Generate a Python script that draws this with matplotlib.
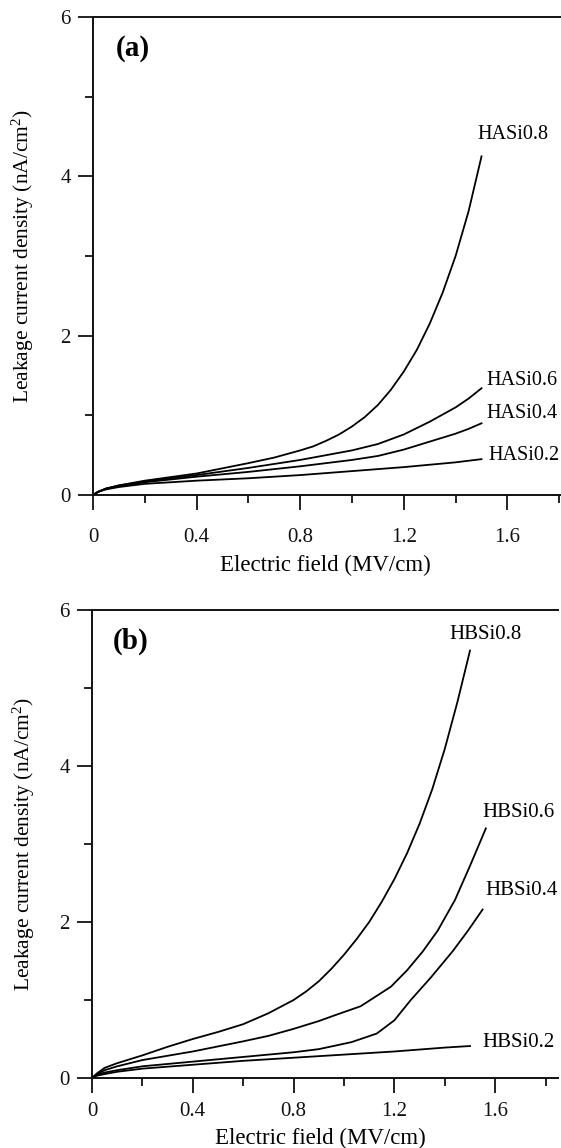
"""
Leakage current density vs electric field for the HASi and HBSi film series,
two stacked panels (a) and (b).
"""
import matplotlib

matplotlib.use("Agg")
import matplotlib.pyplot as plt
from matplotlib.ticker import FuncFormatter

plt.rcParams["font.family"] = ["Liberation Serif", "DejaVu Serif"]
plt.rcParams["mathtext.fontset"] = "custom"
plt.rcParams["mathtext.rm"] = "Liberation Serif"
plt.rcParams["mathtext.it"] = "Liberation Serif:italic"

# ---- panel (a): HASi series -------------------------------------------------
has02_x = [0, 0.02, 0.05, 0.1, 0.2, 0.4, 0.6, 0.8, 1.0, 1.2, 1.4, 1.5]
has02_y = [0, 0.04, 0.07, 0.10, 0.14, 0.18, 0.21, 0.25, 0.30, 0.35, 0.41, 0.45]

has04_x = [0, 0.02, 0.05, 0.1, 0.2, 0.4, 0.6, 0.8, 1.0, 1.05, 1.1, 1.15, 1.2,
           1.25, 1.3, 1.35, 1.4, 1.45, 1.5]
has04_y = [0, 0.04, 0.08, 0.11, 0.16, 0.23, 0.29, 0.36, 0.44, 0.465, 0.49, 0.53,
           0.57, 0.62, 0.67, 0.72, 0.77, 0.83, 0.90]

has06_x = [0, 0.02, 0.05, 0.1, 0.2, 0.4, 0.6, 0.8, 0.9, 1.0, 1.05, 1.1, 1.15,
           1.2, 1.25, 1.3, 1.35, 1.4, 1.45, 1.5]
has06_y = [0, 0.04, 0.08, 0.12, 0.17, 0.25, 0.34, 0.44, 0.50, 0.56, 0.60, 0.64,
           0.70, 0.76, 0.84, 0.92, 1.01, 1.10, 1.21, 1.34]

has08_x = [0, 0.02, 0.05, 0.1, 0.2, 0.4, 0.6, 0.7, 0.8, 0.85, 0.9, 0.95, 1.0,
           1.05, 1.1, 1.15, 1.2, 1.25, 1.3, 1.35, 1.4, 1.45, 1.5]
has08_y = [0, 0.04, 0.08, 0.12, 0.18, 0.27, 0.40, 0.47, 0.56, 0.61, 0.68, 0.76,
           0.86, 0.98, 1.13, 1.32, 1.55, 1.82, 2.15, 2.54, 3.00, 3.56, 4.25]

# ---- panel (b): HBSi series -------------------------------------------------
hbs02_x = [0, 0.02, 0.05, 0.1, 0.2, 0.4, 0.6, 0.8, 1.0, 1.2, 1.4, 1.5]
hbs02_y = [0, 0.03, 0.05, 0.08, 0.12, 0.17, 0.22, 0.26, 0.30, 0.34, 0.39, 0.41]

hbs04_x = [0, 0.02, 0.05, 0.1, 0.2, 0.4, 0.6, 0.8, 0.9, 1.03, 1.13, 1.2, 1.265,
           1.345, 1.43, 1.49, 1.55]
hbs04_y = [0, 0.04, 0.07, 0.10, 0.15, 0.21, 0.27, 0.33, 0.37, 0.46, 0.57, 0.74,
           1.00, 1.29, 1.62, 1.88, 2.16]

hbs06_x = [0, 0.02, 0.05, 0.1, 0.2, 0.4, 0.6, 0.7, 0.8, 0.9, 0.96, 1.066, 1.186,
           1.25, 1.312, 1.372, 1.44, 1.5, 1.563]
hbs06_y = [0, 0.05, 0.10, 0.15, 0.23, 0.34, 0.47, 0.54, 0.63, 0.73, 0.80, 0.92,
           1.17, 1.38, 1.62, 1.89, 2.28, 2.72, 3.20]

hbs08_x = [0, 0.02, 0.05, 0.1, 0.2, 0.3, 0.4, 0.5, 0.6, 0.7, 0.8, 0.85, 0.9,
           0.95, 1.0, 1.05, 1.1, 1.15, 1.2, 1.25, 1.3, 1.35, 1.4, 1.45, 1.5]
hbs08_y = [0, 0.06, 0.13, 0.19, 0.29, 0.40, 0.50, 0.59, 0.69, 0.83, 1.00, 1.11,
           1.24, 1.40, 1.58, 1.78, 2.00, 2.26, 2.55, 2.88, 3.26, 3.70, 4.22,
           4.82, 5.48]

# curve labels: (text, x, y) in data units
labels_a = [("HASi0.8", 1.483, 4.53), ("HASi0.6", 1.52, 1.44),
            ("HASi0.4", 1.52, 1.02), ("HASi0.2", 1.525, 0.50)]
labels_b = [("HBSi0.8", 1.417, 5.68), ("HBSi0.6", 1.548, 3.41),
            ("HBSi0.4", 1.56, 2.40), ("HBSi0.2", 1.548, 0.46)]

XMAJ = [0, 0.4, 0.8, 1.2, 1.6]
XMIN = [0.2, 0.6, 1.0, 1.4, 1.8]
YMAJ = [0, 2, 4, 6]
YMIN = [1, 3, 5]

W, H = 561, 1148


def style(ax, tag, xpad):
    ax.set_xlim(0, 1.85)
    ax.set_ylim(0, 6)
    ax.set_xticks(XMAJ)
    ax.set_xticks(XMIN, minor=True)
    ax.set_yticks(YMAJ)
    ax.set_yticks(YMIN, minor=True)
    fmt = FuncFormatter(lambda v, p: f"{v:g}")
    ax.xaxis.set_major_formatter(fmt)
    ax.yaxis.set_major_formatter(fmt)
    ax.tick_params(which="major", direction="out", length=11, width=1.3,
                   labelsize=15, colors="#111111")
    ax.tick_params(axis="x", which="major", pad=xpad)
    ax.tick_params(axis="y", which="major", pad=5)
    ax.tick_params(which="minor", direction="out", length=6, width=1.3,
                   colors="#111111")
    ax.spines["right"].set_visible(False)
    for s in ("left", "bottom", "top"):
        ax.spines[s].set_linewidth(1.4)
        ax.spines[s].set_color("#111111")
    ax.set_xlabel("Electric field (MV/cm)", fontsize=16.5)
    ax.set_ylabel("Leakage current density (nA/cm$^2$)", fontsize=15.5)
    ax.yaxis.set_label_coords(-0.118, 0.5)
    ax.text(0.155, 5.6, tag, fontsize=21, fontweight="bold", ha="center",
            va="center")


fig = plt.figure(figsize=(W / 100, H / 100), dpi=100)

# panel (a): spine at x=93px, y=0 at 495px, y=6 at 17px, 259 px per MV/cm
ax_a = fig.add_axes([93 / W, (H - 495) / H, 1.85 * 259 / W, (495 - 17) / H])
for xs, ys in [(has02_x, has02_y), (has04_x, has04_y),
               (has06_x, has06_y), (has08_x, has08_y)]:
    ax_a.plot(xs, ys, color="black", lw=1.3)
for txt, x, y in labels_a:
    ax_a.text(x, y, txt, fontsize=14.5, ha="left", va="center", clip_on=False)
style(ax_a, "(a)", 13)
ax_a.xaxis.set_label_coords(0.484, -0.125)

# panel (b): spine at x=92px, y=0 at 1078px, y=6 at 610px, 252 px per MV/cm
ax_b = fig.add_axes([92 / W, (H - 1078) / H, 1.85 * 252 / W, (1078 - 610) / H])
for xs, ys in [(hbs02_x, hbs02_y), (hbs04_x, hbs04_y),
               (hbs06_x, hbs06_y), (hbs08_x, hbs08_y)]:
    ax_b.plot(xs, ys, color="black", lw=1.3)
for txt, x, y in labels_b:
    ax_b.text(x, y, txt, fontsize=15, ha="left", va="center", clip_on=False)
style(ax_b, "(b)", 6.5)
ax_b.xaxis.set_label_coords(0.49, -0.107)

fig.savefig("out.png", dpi=100)
plt.close(fig)
